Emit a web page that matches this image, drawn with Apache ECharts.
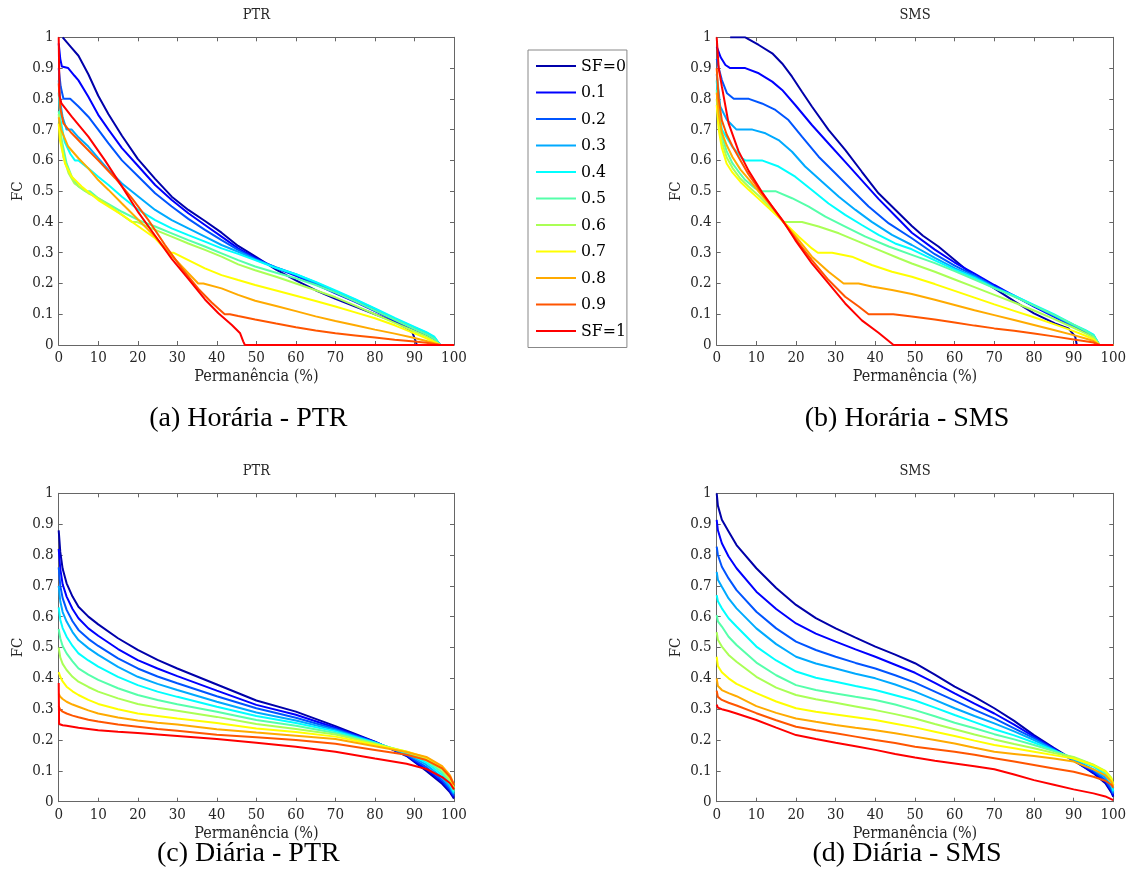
<!DOCTYPE html>
<html><head><meta charset="utf-8">
<script src="https://cdn.jsdelivr.net/npm/echarts@6/dist/echarts.min.js"></script>
<style>html,body{margin:0;padding:0;background:#fff}#c{width:1132px;height:894px}</style>
</head><body><div id="c"></div><script>
// ---------- names, colours ----------
const SF_NAMES = ['SF=0','0.1','0.2','0.3','0.4','0.5','0.6','0.7','0.8','0.9','SF=1'];
const COLORS = ['#0000AA','#0000FF','#0055FF','#00AAFF','#00FFFF','#55FFAA','#AAFF55','#FFFF00','#FFAA00','#FF5500','#FF0000'];
const PANEL_TITLES = ['PTR','SMS','PTR','SMS'];
const CAPTIONS = ['(a) Horária - PTR','(b) Horária - SMS','(c) Diária - PTR','(d) Diária - SMS'];
const X_NAME = 'Permanência (%)';
const Y_NAME = 'FC';

// ---------- (a) Horária - PTR : [permanência %, FC] ----------
const hPTR_0 = [[1,1],[3,0.97],[5,0.94],[7.5,0.88],[10,0.81],[12.6,0.75],[16,0.68],[20,0.605],[24.4,0.54],[28.6,0.482],[32.8,0.439],[37,0.403],[41.2,0.365],[45.4,0.322],[49.7,0.288],[55,0.245],[60,0.21],[65,0.178],[70,0.15],[75,0.125],[80,0.1],[85,0.075],[88,0.055],[89.5,0.04],[90.3,0.012],[90.6,0],[100,0]];
const hPTR_1 = [[0,0.98],[0.4,0.93],[0.8,0.905],[2.4,0.9],[4,0.875],[5,0.86],[7.5,0.807],[10,0.748],[12.6,0.7],[16,0.64],[20.2,0.58],[24.4,0.52],[28.6,0.471],[32.8,0.428],[37,0.39],[41.2,0.352],[45.4,0.314],[49.7,0.283],[55,0.25],[60,0.225],[65,0.197],[70,0.168],[75,0.14],[80,0.11],[85,0.079],[90,0.05],[93,0.033],[95,0.02],[96.5,0],[100,0]];
const hPTR_2 = [[0,0.9],[0.5,0.84],[1.2,0.8],[2.9,0.8],[5,0.775],[7.5,0.742],[10,0.7],[12.6,0.655],[16,0.6],[20.2,0.547],[24.4,0.493],[28.6,0.45],[32.8,0.41],[37,0.374],[41.2,0.341],[45.4,0.309],[49.7,0.28],[55,0.252],[60,0.228],[65,0.2],[70,0.172],[75,0.144],[80,0.114],[85,0.083],[90,0.054],[93,0.037],[95,0.023],[96.5,0],[100,0]];
const hPTR_3 = [[0,0.86],[0.5,0.78],[1,0.74],[2,0.7],[3.3,0.7],[5,0.675],[7.5,0.645],[10,0.607],[12.6,0.569],[16,0.525],[20.2,0.482],[24.4,0.439],[28.6,0.406],[32.8,0.379],[37,0.352],[41.2,0.325],[45.4,0.303],[49.7,0.278],[55,0.252],[60,0.23],[65,0.203],[70,0.175],[75,0.147],[80,0.117],[85,0.086],[90,0.057],[93,0.04],[95,0.025],[96.5,0],[100,0]];
const hPTR_4 = [[0,0.82],[0.5,0.73],[1.5,0.66],[3,0.62],[4.1,0.6],[5,0.6],[7.5,0.574],[10,0.547],[12.6,0.52],[16,0.482],[20.2,0.439],[24.4,0.406],[28.6,0.379],[32.8,0.357],[37,0.336],[41.2,0.314],[45.4,0.296],[49.7,0.276],[55,0.25],[60,0.23],[65,0.205],[70,0.177],[75,0.149],[80,0.119],[85,0.088],[90,0.059],[93,0.042],[95,0.027],[96.5,0],[100,0]];
const hPTR_5 = [[0,0.76],[0.1,0.75],[0.7,0.67],[2,0.59],[3.3,0.547],[5,0.515],[6.7,0.5],[7.9,0.5],[10,0.477],[16,0.433],[20.2,0.406],[24.4,0.385],[28.6,0.363],[32.8,0.341],[37,0.32],[41.2,0.298],[45.4,0.276],[49.7,0.255],[55,0.235],[60,0.217],[65,0.195],[70,0.17],[75,0.142],[80,0.112],[85,0.082],[90,0.052],[93,0.035],[95,0.02],[96.5,0],[100,0]];
const hPTR_6 = [[0,0.75],[0.3,0.71],[1.2,0.61],[2.5,0.558],[4,0.525],[7.5,0.493],[10,0.477],[12.6,0.455],[16,0.423],[18.5,0.4],[19.7,0.4],[24.4,0.374],[28.6,0.352],[32.8,0.33],[37,0.309],[41.2,0.287],[45.4,0.262],[49.7,0.243],[55,0.222],[60,0.2],[65,0.178],[70,0.155],[75,0.128],[80,0.1],[85,0.072],[90,0.044],[93,0.028],[96.5,0],[100,0]];
const hPTR_7 = [[0,0.72],[0.3,0.666],[1.6,0.59],[3.3,0.547],[5.8,0.515],[10,0.471],[16,0.423],[20.2,0.385],[24.4,0.347],[27.7,0.3],[29,0.3],[32.8,0.276],[37,0.249],[41.2,0.227],[45.4,0.211],[49.7,0.195],[55,0.177],[60,0.16],[65,0.143],[70,0.125],[75,0.106],[80,0.087],[85,0.064],[90,0.038],[93,0.022],[96.5,0],[100,0]];
const hPTR_8 = [[0,0.74],[0.6,0.7],[2.4,0.645],[5,0.607],[7.5,0.574],[10,0.536],[12.6,0.504],[16,0.46],[20.2,0.406],[24.4,0.352],[28.6,0.29],[32.8,0.233],[35.3,0.2],[36.6,0.2],[41.2,0.184],[45.4,0.163],[49.7,0.144],[55,0.127],[60,0.11],[65,0.093],[70,0.078],[75,0.064],[80,0.05],[85,0.037],[90,0.023],[93,0.013],[96.5,0],[100,0]];
const hPTR_9 = [[0,0.85],[0.4,0.77],[1.2,0.72],[3.3,0.688],[5.8,0.655],[10,0.6],[14.3,0.542],[18.5,0.477],[22.7,0.406],[26.9,0.325],[31.1,0.25],[35.3,0.183],[38.7,0.138],[42,0.1],[43.3,0.1],[45.4,0.094],[49.7,0.083],[55,0.07],[60,0.058],[65,0.047],[70,0.038],[75,0.031],[80,0.024],[85,0.017],[90,0.011],[93,0.007],[96.5,0],[100,0]];
const hPTR_10 = [[0,1],[0.2,0.81],[0.7,0.785],[3.3,0.742],[7.5,0.677],[11.7,0.6],[16,0.515],[20.2,0.43],[24.4,0.355],[28.6,0.28],[32.8,0.215],[37,0.148],[40.4,0.103],[43.8,0.065],[45.9,0.038],[46.7,0.011],[47.1,0],[100,0]];

// ---------- (b) Horária - SMS ----------
const hSMS_0 = [[3.4,1],[7.2,1],[10.6,0.975],[14,0.948],[16.5,0.915],[19,0.872],[21.5,0.823],[24,0.775],[28.2,0.699],[32.4,0.634],[36.6,0.563],[40.8,0.493],[44.2,0.45],[49.2,0.387],[52,0.355],[55.9,0.32],[60,0.276],[64.3,0.23],[70,0.184],[75.2,0.141],[80,0.103],[85.3,0.07],[88.7,0.054],[90.4,0.027],[90.8,0],[100,0]];
const hSMS_1 = [[0,0.97],[1,0.935],[2.2,0.91],[3.4,0.9],[7.2,0.9],[10.6,0.883],[14,0.856],[16.5,0.829],[19.8,0.78],[24,0.715],[28.2,0.655],[32.4,0.595],[36.6,0.535],[40.8,0.475],[45,0.42],[49.2,0.365],[55,0.31],[60,0.268],[65,0.232],[70,0.195],[75,0.16],[80,0.125],[85,0.092],[90,0.058],[93,0.04],[95,0.025],[96.5,0],[100,0]];
const hSMS_2 = [[0,0.93],[0.5,0.9],[1.3,0.861],[2.6,0.818],[4.3,0.8],[8.1,0.8],[11.4,0.785],[14.8,0.764],[18.1,0.731],[21.5,0.677],[25.7,0.612],[29.9,0.558],[34.1,0.504],[38.3,0.45],[43.4,0.395],[49.2,0.347],[55,0.295],[60,0.258],[65,0.226],[70,0.19],[75,0.16],[80,0.127],[85,0.095],[90,0.062],[93,0.044],[95,0.03],[96.5,0],[100,0]];
const hSMS_3 = [[0,0.88],[0.9,0.775],[2.6,0.731],[5,0.7],[9,0.7],[12.3,0.688],[15.6,0.666],[19,0.628],[22.3,0.58],[26.5,0.531],[30.8,0.482],[35,0.439],[39.1,0.4],[44.2,0.358],[49.2,0.325],[55,0.283],[60,0.25],[65,0.222],[70,0.187],[75,0.16],[80,0.128],[85,0.097],[90,0.064],[93,0.046],[95,0.032],[96.5,0],[100,0]];
const hSMS_4 = [[0,0.86],[0.5,0.77],[1.3,0.7],[3.9,0.645],[6.4,0.607],[7.2,0.6],[11.4,0.6],[15.6,0.58],[19.8,0.547],[24,0.504],[28.2,0.46],[32.4,0.423],[36.6,0.39],[40.8,0.358],[45,0.33],[49.2,0.311],[55,0.275],[60,0.245],[65,0.218],[70,0.185],[75,0.16],[80,0.13],[85,0.1],[90,0.066],[93,0.048],[95,0.034],[96.5,0],[100,0]];
const hSMS_5 = [[0,0.83],[0.5,0.74],[1.3,0.68],[2.5,0.63],[4,0.59],[6,0.555],[7.2,0.536],[9.7,0.509],[11.4,0.5],[14.8,0.5],[19,0.477],[23.2,0.45],[27.4,0.417],[32.4,0.385],[37.5,0.352],[43.4,0.32],[49.2,0.293],[55,0.266],[60,0.24],[65,0.213],[70,0.185],[75,0.157],[80,0.128],[85,0.098],[90,0.066],[93,0.046],[95,0.03],[96.5,0],[100,0]];
const hSMS_6 = [[0,0.8],[0.5,0.72],[1.3,0.66],[2.5,0.61],[4,0.575],[6,0.54],[8,0.515],[11,0.48],[14,0.44],[16.9,0.4],[21.5,0.4],[25.7,0.385],[30.8,0.363],[35.8,0.336],[40.8,0.309],[45.9,0.282],[49.2,0.265],[55,0.238],[60,0.213],[65,0.188],[70,0.163],[75,0.138],[80,0.112],[85,0.085],[90,0.056],[93,0.038],[95,0.024],[96.5,0],[100,0]];
const hSMS_7 = [[0,0.78],[0.5,0.7],[1.3,0.64],[2.5,0.59],[4,0.56],[6,0.53],[8,0.505],[11,0.47],[14,0.435],[16.9,0.4],[20.7,0.352],[24,0.314],[25.5,0.3],[29.1,0.3],[34.1,0.287],[39.1,0.26],[44.2,0.238],[49.2,0.222],[55,0.198],[60,0.176],[65,0.154],[70,0.132],[75,0.111],[80,0.09],[85,0.068],[90,0.045],[93,0.03],[95,0.018],[96.5,0],[100,0]];
const hSMS_8 = [[0,0.82],[0.5,0.75],[1.3,0.69],[2.5,0.65],[4,0.61],[6,0.57],[8,0.54],[11,0.492],[14,0.447],[16.9,0.398],[20.7,0.341],[24,0.287],[28.2,0.238],[32,0.2],[35.8,0.2],[39.1,0.19],[44.2,0.179],[49.2,0.166],[55,0.147],[60,0.13],[65,0.113],[70,0.097],[75,0.081],[80,0.065],[85,0.049],[90,0.032],[93,0.021],[95,0.013],[96.5,0],[100,0]];
const hSMS_9 = [[0,0.9],[0.5,0.8],[1.3,0.73],[2.5,0.685],[4,0.645],[6,0.6],[8,0.555],[11,0.5],[14,0.45],[16.9,0.398],[20.7,0.33],[24,0.276],[28.2,0.211],[32.4,0.157],[35.8,0.125],[38.3,0.1],[44.5,0.1],[49.2,0.093],[55,0.083],[60,0.073],[65,0.063],[70,0.054],[75,0.046],[80,0.037],[85,0.028],[90,0.018],[93,0.012],[95,0.008],[96.5,0],[100,0]];
const hSMS_10 = [[0,1],[0.5,0.9],[1.3,0.84],[3,0.72],[5.5,0.63],[8.1,0.565],[11.4,0.497],[14,0.45],[16.9,0.4],[19.8,0.341],[24,0.265],[28.2,0.2],[32.4,0.135],[36.6,0.08],[40.8,0.04],[44.6,0],[100,0]];

// ---------- (c) Diária - PTR ----------
const dPTR_0 = [[0,0.88],[0.4,0.81],[1,0.755],[2,0.708],[3.5,0.665],[5,0.632],[7.5,0.6],[10,0.575],[15,0.53],[20,0.492],[25,0.46],[30,0.432],[40,0.38],[50,0.328],[60,0.292],[70,0.245],[80,0.195],[88,0.148],[93,0.1],[97,0.058],[99,0.03],[100,0.01]];
const dPTR_1 = [[0,0.82],[0.4,0.755],[1,0.705],[2,0.665],[3.5,0.625],[5,0.595],[7.5,0.562],[10,0.538],[15,0.495],[20,0.459],[25,0.432],[30,0.407],[40,0.36],[50,0.314],[60,0.282],[70,0.24],[80,0.194],[88,0.15],[93,0.105],[97,0.064],[99,0.035],[100,0.015]];
const dPTR_2 = [[0,0.76],[0.4,0.7],[1,0.66],[2,0.622],[3.5,0.585],[5,0.557],[7.5,0.528],[10,0.505],[15,0.465],[20,0.432],[25,0.406],[30,0.384],[40,0.342],[50,0.303],[60,0.272],[70,0.236],[80,0.193],[88,0.152],[93,0.112],[97,0.07],[99,0.04],[100,0.02]];
const dPTR_3 = [[0,0.7],[0.4,0.65],[1,0.615],[2,0.584],[3.5,0.55],[5,0.524],[7.5,0.498],[10,0.476],[15,0.437],[20,0.405],[25,0.382],[30,0.362],[40,0.324],[50,0.289],[60,0.263],[70,0.232],[80,0.192],[88,0.155],[93,0.12],[97,0.078],[99,0.047],[100,0.025]];
const dPTR_4 = [[0,0.63],[0.4,0.59],[1,0.563],[2,0.535],[3.5,0.505],[5,0.481],[7.5,0.458],[10,0.438],[15,0.405],[20,0.378],[25,0.357],[30,0.34],[40,0.308],[50,0.278],[60,0.255],[70,0.228],[80,0.191],[88,0.158],[93,0.127],[97,0.087],[99,0.055],[100,0.03]];
const dPTR_5 = [[0,0.56],[0.4,0.53],[1,0.505],[2,0.481],[3.5,0.455],[5,0.432],[7.5,0.412],[10,0.395],[15,0.368],[20,0.346],[25,0.33],[30,0.316],[40,0.292],[50,0.265],[60,0.246],[70,0.223],[80,0.19],[88,0.16],[93,0.134],[97,0.095],[99,0.062],[100,0.035]];
const dPTR_6 = [[0,0.5],[0.4,0.468],[1,0.447],[2,0.427],[3.5,0.405],[5,0.389],[7.5,0.372],[10,0.357],[15,0.335],[20,0.317],[25,0.305],[30,0.295],[40,0.275],[50,0.252],[60,0.236],[70,0.218],[80,0.188],[88,0.162],[93,0.139],[97,0.103],[99,0.07],[100,0.04]];
const dPTR_7 = [[0,0.42],[0.4,0.405],[1,0.39],[2,0.373],[3.5,0.358],[5,0.346],[7.5,0.33],[10,0.317],[15,0.3],[20,0.286],[25,0.278],[30,0.27],[40,0.255],[50,0.237],[60,0.226],[70,0.211],[80,0.185],[88,0.163],[93,0.143],[97,0.11],[99,0.078],[100,0.045]];
const dPTR_8 = [[0,0.35],[0.4,0.34],[1,0.333],[2,0.324],[3.5,0.315],[5,0.308],[7.5,0.296],[10,0.286],[15,0.273],[20,0.263],[25,0.256],[30,0.25],[40,0.235],[50,0.224],[60,0.214],[70,0.203],[80,0.18],[88,0.161],[93,0.145],[97,0.115],[99,0.085],[100,0.055]];
const dPTR_9 = [[0,0.31],[0.4,0.298],[1,0.292],[2,0.286],[3.5,0.279],[5,0.274],[7.5,0.266],[10,0.26],[15,0.25],[20,0.243],[25,0.236],[30,0.23],[40,0.217],[50,0.209],[60,0.2],[70,0.188],[80,0.168],[88,0.152],[93,0.135],[97,0.108],[99,0.08],[100,0.055]];
const dPTR_10 = [[0,0.385],[0.1,0.252],[0.4,0.25],[1,0.248],[2,0.246],[5,0.24],[10,0.232],[15,0.227],[20,0.223],[25,0.218],[30,0.213],[40,0.203],[50,0.191],[60,0.178],[70,0.162],[80,0.14],[88,0.123],[93,0.106],[97,0.08],[99,0.06],[100,0.04]];

// ---------- (d) Diária - SMS ----------
const dSMS_0 = [[0,1],[0.3,0.96],[1.3,0.914],[3,0.876],[5,0.832],[10,0.757],[15,0.693],[20,0.638],[25,0.595],[30,0.562],[35,0.532],[40,0.503],[45,0.477],[50,0.449],[55,0.412],[60,0.373],[65,0.34],[70,0.303],[75,0.262],[80,0.216],[85,0.175],[90,0.135],[95,0.092],[98,0.06],[99.5,0.03],[100,0.016]];
const dSMS_1 = [[0,0.914],[0.3,0.88],[1.3,0.838],[3,0.795],[5,0.757],[10,0.681],[15,0.625],[20,0.578],[25,0.545],[30,0.519],[35,0.494],[40,0.47],[45,0.444],[50,0.418],[55,0.385],[60,0.351],[65,0.318],[70,0.286],[75,0.25],[80,0.211],[85,0.172],[90,0.132],[95,0.095],[98,0.065],[99.5,0.035],[100,0.02]];
const dSMS_2 = [[0,0.827],[0.3,0.8],[1.3,0.762],[3,0.724],[5,0.686],[10,0.616],[15,0.562],[20,0.519],[25,0.492],[30,0.47],[35,0.45],[40,0.432],[45,0.41],[50,0.386],[55,0.357],[60,0.328],[65,0.298],[70,0.27],[75,0.238],[80,0.206],[85,0.17],[90,0.133],[95,0.1],[98,0.07],[99.5,0.04],[100,0.025]];
const dSMS_3 = [[0,0.745],[0.3,0.72],[1.3,0.697],[3,0.659],[5,0.627],[10,0.562],[15,0.511],[20,0.47],[25,0.448],[30,0.432],[35,0.415],[40,0.4],[45,0.38],[50,0.357],[55,0.33],[60,0.303],[65,0.278],[70,0.254],[75,0.228],[80,0.2],[85,0.168],[90,0.136],[95,0.105],[98,0.078],[99.5,0.05],[100,0.03]];
const dSMS_4 = [[0,0.67],[0.3,0.65],[1.3,0.627],[3,0.595],[5,0.568],[10,0.503],[15,0.458],[20,0.422],[25,0.402],[30,0.389],[35,0.375],[40,0.362],[45,0.345],[50,0.328],[55,0.305],[60,0.281],[65,0.258],[70,0.235],[75,0.215],[80,0.192],[85,0.166],[90,0.14],[95,0.114],[98,0.088],[99.5,0.06],[100,0.035]];
const dSMS_5 = [[0,0.605],[0.3,0.585],[1.3,0.568],[3,0.535],[5,0.508],[10,0.451],[15,0.41],[20,0.378],[25,0.362],[30,0.351],[35,0.34],[40,0.33],[45,0.315],[50,0.297],[55,0.277],[60,0.256],[65,0.238],[70,0.219],[75,0.202],[80,0.184],[85,0.164],[90,0.143],[95,0.119],[98,0.095],[99.5,0.07],[100,0.045]];
const dSMS_6 = [[0,0.55],[0.3,0.525],[1.3,0.503],[3,0.476],[5,0.454],[10,0.405],[15,0.37],[20,0.346],[25,0.332],[30,0.321],[35,0.309],[40,0.297],[45,0.284],[50,0.27],[55,0.252],[60,0.235],[65,0.218],[70,0.202],[75,0.187],[80,0.173],[85,0.158],[90,0.145],[95,0.12],[98,0.1],[99.5,0.078],[100,0.055]];
const dSMS_7 = [[0,0.47],[0.3,0.44],[1.3,0.42],[3,0.4],[5,0.382],[10,0.352],[15,0.325],[20,0.303],[25,0.292],[30,0.283],[35,0.274],[40,0.265],[45,0.253],[50,0.241],[55,0.227],[60,0.213],[65,0.198],[70,0.184],[75,0.173],[80,0.162],[85,0.151],[90,0.14],[95,0.118],[98,0.098],[99.5,0.075],[100,0.055]];
const dSMS_8 = [[0,0.4],[0.3,0.375],[1.3,0.362],[3,0.352],[5,0.342],[10,0.31],[15,0.288],[20,0.27],[25,0.259],[30,0.249],[35,0.24],[40,0.232],[45,0.222],[50,0.211],[55,0.2],[60,0.189],[65,0.175],[70,0.162],[75,0.155],[80,0.148],[85,0.14],[90,0.13],[95,0.105],[98,0.085],[99.5,0.065],[100,0.05]];
const dSMS_9 = [[0,0.36],[0.3,0.34],[1.3,0.33],[3,0.321],[5,0.312],[10,0.287],[15,0.264],[20,0.243],[25,0.232],[30,0.222],[35,0.211],[40,0.2],[45,0.19],[50,0.178],[55,0.17],[60,0.162],[65,0.152],[70,0.141],[75,0.13],[80,0.119],[85,0.108],[90,0.097],[95,0.081],[98,0.068],[99.5,0.055],[100,0.045]];
const dSMS_10 = [[0,0.315],[0.3,0.305],[1.3,0.3],[3,0.294],[5,0.286],[10,0.265],[15,0.24],[20,0.216],[25,0.203],[30,0.191],[35,0.18],[40,0.168],[45,0.155],[50,0.143],[55,0.133],[60,0.124],[65,0.115],[70,0.105],[75,0.088],[80,0.07],[85,0.055],[90,0.04],[95,0.027],[98,0.017],[100,0.005]];

const PANEL_DATA = [
  [hPTR_0,hPTR_1,hPTR_2,hPTR_3,hPTR_4,hPTR_5,hPTR_6,hPTR_7,hPTR_8,hPTR_9,hPTR_10],
  [hSMS_0,hSMS_1,hSMS_2,hSMS_3,hSMS_4,hSMS_5,hSMS_6,hSMS_7,hSMS_8,hSMS_9,hSMS_10],
  [dPTR_0,dPTR_1,dPTR_2,dPTR_3,dPTR_4,dPTR_5,dPTR_6,dPTR_7,dPTR_8,dPTR_9,dPTR_10],
  [dSMS_0,dSMS_1,dSMS_2,dSMS_3,dSMS_4,dSMS_5,dSMS_6,dSMS_7,dSMS_8,dSMS_9,dSMS_10]
];

// ---------- layout ----------
const GRIDS = [
  {left:58.7, top:37.3, width:395.3, height:307.7},
  {left:716.7, top:37.3, width:396.6, height:307.7},
  {left:58.7, top:493.3, width:395.3, height:308.4},
  {left:716.7, top:493.3, width:396.6, height:308.4}
];
const CAPTION_Y = [419, 419, 854, 854];
const TF = "'DejaVu Serif Condensed','DejaVu Serif',serif";
const CF = "'Liberation Serif','DejaVu Serif',serif";
const AXC = '#666666';
const LBC = '#262626';

const xAxis = [], yAxis = [], series = [], graphic = [];
GRIDS.forEach((g, i) => {
  const common = {gridIndex:i, type:'value', splitLine:{show:false},
    axisLine:{show:true, onZero:false, lineStyle:{color:AXC, width:1}},
    axisTick:{show:true, inside:true, length:4, lineStyle:{color:AXC, width:1}}};
  xAxis.push(Object.assign({}, common, {position:'bottom', min:0, max:100, interval:10,
    name:X_NAME, nameLocation:'middle', nameGap:24,
    nameTextStyle:{fontFamily:TF, fontSize:16, color:LBC},
    axisLabel:{margin:6, fontFamily:TF, fontSize:15, color:LBC}}));
  xAxis.push(Object.assign({}, common, {position:'top', min:0, max:100, interval:10, axisLabel:{show:false}}));
  yAxis.push(Object.assign({}, common, {position:'left', min:0, max:1, interval:0.1,
    name:Y_NAME, nameLocation:'middle', nameGap:33,
    nameTextStyle:{fontFamily:TF, fontSize:15, color:LBC},
    axisLabel:{margin:5, fontFamily:TF, fontSize:15, color:LBC}}));
  yAxis.push(Object.assign({}, common, {position:'right', min:0, max:1, interval:0.1, axisLabel:{show:false}}));

  PANEL_DATA[i].forEach((d, k) => {
    series.push({type:'line', name:SF_NAMES[k], xAxisIndex:2*i, yAxisIndex:2*i, data:d,
      showSymbol:false, symbol:'none', smooth:false, silent:true,
      lineStyle:{width:2, color:COLORS[k]}, itemStyle:{color:COLORS[k]}});
  });

  const cx = g.left + g.width/2;
  graphic.push({type:'text', x:cx, y:g.top - 22, style:{text:PANEL_TITLES[i], font:"14.5px " + TF, fill:LBC, align:'center', verticalAlign:'middle'}});
  graphic.push({type:'text', x:cx - 8, y:CAPTION_Y[i], style:{text:CAPTIONS[i], font:"28px " + CF, fill:'#000', align:'center', verticalAlign:'middle'}});
});

const chart = echarts.init(document.getElementById('c'), null, {renderer:'canvas'});
chart.setOption({
  animation:false,
  backgroundColor:'#ffffff',
  grid: GRIDS,
  xAxis, yAxis, series, graphic,
  legend: {
    show:true, orient:'vertical', left:528, top:50, data:SF_NAMES,
    icon:'rect', itemWidth:40, itemHeight:2, itemGap:8.5,
    padding:[7,1,7.5,8], borderColor:'#888', borderWidth:1, backgroundColor:'#fff',
    selectedMode:false,
    textStyle:{fontFamily:TF, fontSize:17.5, color:'#000'}
  }
});
</script></body></html>
